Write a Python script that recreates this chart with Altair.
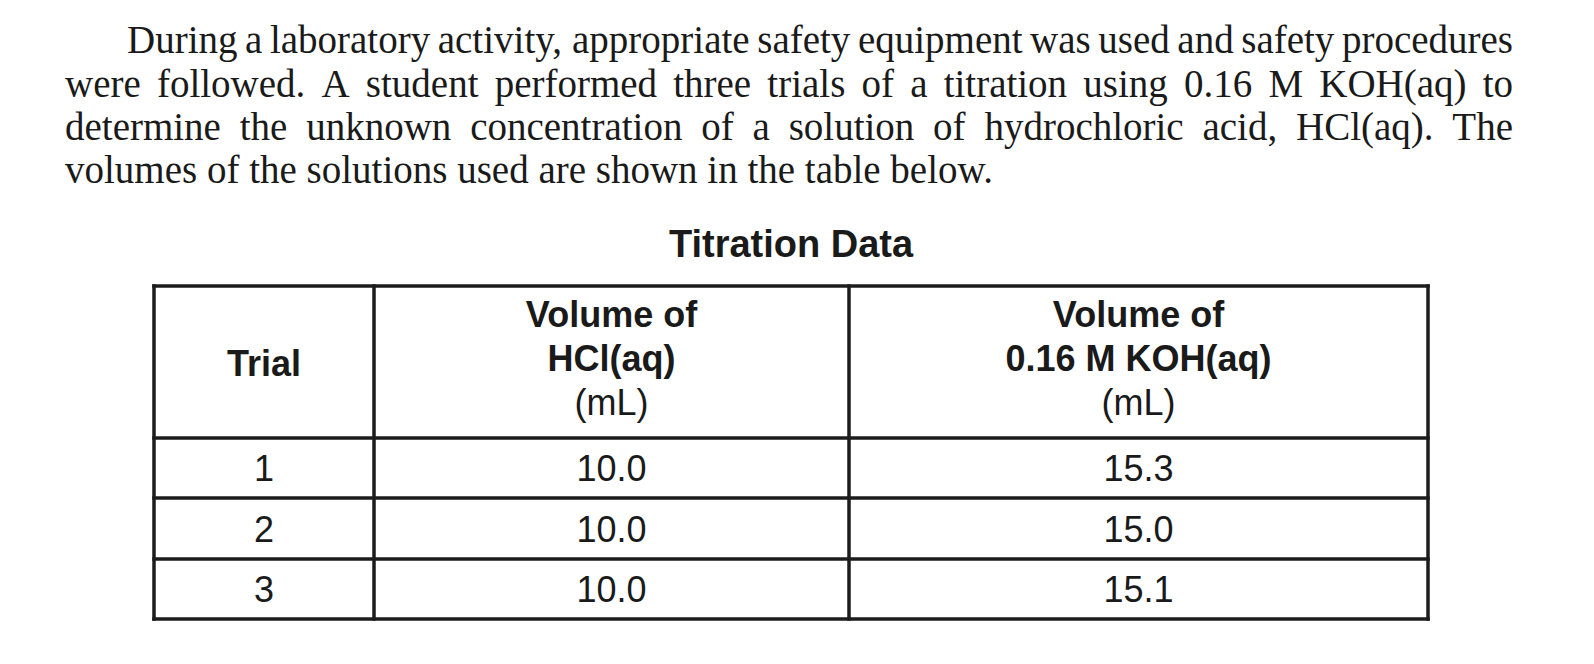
import altair as alt
import pandas as pd

# ---------------- content ----------------
PARAGRAPH_LINES = [
    "During a laboratory activity, appropriate safety equipment was used and safety procedures",
    "were followed. A student performed three trials of a titration using 0.16 M KOH(aq) to",
    "determine the unknown concentration of a solution of hydrochloric acid, HCl(aq). The",
    "volumes of the solutions used are shown in the table below.",
]
TITLE = "Titration Data"
HEADER_TRIAL = ["Trial"]
HEADER_HCL = ["Volume of", "HCl(aq)", "(mL)"]
HEADER_KOH = ["Volume of", "0.16 M KOH(aq)", "(mL)"]
TRIALS = ["1", "2", "3"]
HCL_ML = [10.0, 10.0, 10.0]
KOH_ML = [15.3, 15.0, 15.1]

# ---------------- layout (page pixels) ----------------
W, H, M = 1578, 648, 8
SERIF = "Liberation Serif"
SANS = "Liberation Sans"
INK = "#1a1a1a"
PARA_FS = 39
TABLE_FS = 36
TITLE_FS = 38

PARA_LEFT, PARA_INDENT, PARA_RIGHT = 65, 127, 1513
PARA_BASELINES = [53, 97, 140, 183]

COL_EDGES = [154, 374, 849, 1428]
ROW_EDGES = [286, 438, 498, 559, 619]
TITLE_BASELINE = 257

# Times / Liberation Serif advance widths (1/1000 em)
TW = {" ": 250, ",": 250, ".": 250, "(": 333, ")": 333, "A": 722, "C": 667, "D": 722,
      "H": 722, "K": 722, "M": 889, "O": 722, "T": 611, "a": 444, "b": 500, "c": 444,
      "d": 500, "e": 444, "f": 333, "g": 500, "h": 500, "i": 278, "k": 500, "l": 278,
      "m": 778, "n": 500, "o": 500, "p": 500, "q": 500, "r": 333, "s": 389, "t": 278,
      "u": 500, "v": 500, "w": 722, "x": 500, "y": 500}


def tw(s, fs):
    return sum(TW.get(c, 500) for c in s) / 1000.0 * fs


# paragraph words laid out with justification (last line ragged)
para_rows = []
for i, line in enumerate(PARAGRAPH_LINES):
    left = PARA_INDENT if i == 0 else PARA_LEFT
    if i == len(PARAGRAPH_LINES) - 1:
        para_rows.append({"x": left, "y": PARA_BASELINES[i], "t": line})
        continue
    words = line.split(" ")
    widths = [tw(w, PARA_FS) for w in words]
    gap = (PARA_RIGHT - left - sum(widths)) / (len(words) - 1)
    x = left
    for w, ww in zip(words, widths):
        para_rows.append({"x": x, "y": PARA_BASELINES[i], "t": w})
        x += ww + gap
para_df = pd.DataFrame(para_rows)

# grid lines
grid = []
for y in ROW_EDGES:
    grid.append({"x": COL_EDGES[0], "x2": COL_EDGES[-1], "y": y, "y2": y})
for x in COL_EDGES:
    grid.append({"x": x, "x2": x, "y": ROW_EDGES[0], "y2": ROW_EDGES[-1]})
grid_df = pd.DataFrame(grid)

centers = [(COL_EDGES[i] + COL_EDGES[i + 1]) / 2 for i in range(3)]
HEADER_BASELINES = [327, 371, 415]
TRIAL_BASELINE = 376

head_bold, head_norm = [], []
head_bold.append({"x": centers[0], "y": TRIAL_BASELINE, "t": HEADER_TRIAL[0]})
for c, lines in ((centers[1], HEADER_HCL), (centers[2], HEADER_KOH)):
    for j, t in enumerate(lines):
        row = {"x": c, "y": HEADER_BASELINES[j], "t": t}
        (head_bold if j < 2 else head_norm).append(row)
head_bold_df = pd.DataFrame(head_bold)
head_norm_df = pd.DataFrame(head_norm)

body = []
for r, (tr, h, k) in enumerate(zip(TRIALS, HCL_ML, KOH_ML)):
    yb = (ROW_EDGES[r + 1] + ROW_EDGES[r + 2]) / 2 + 13
    body.append({"x": centers[0], "y": yb, "t": tr})
    body.append({"x": centers[1], "y": yb, "t": f"{h:.1f}"})
    body.append({"x": centers[2], "y": yb, "t": f"{k:.1f}"})
body_df = pd.DataFrame(body)

title_df = pd.DataFrame([{"x": (COL_EDGES[0] + COL_EDGES[-1]) / 2, "y": TITLE_BASELINE, "t": TITLE}])

xs = alt.Scale(domain=[M, M + W], nice=False, zero=False)
ys = alt.Scale(domain=[M, M + H], nice=False, zero=False, reverse=True)


def X(f="x"):
    return alt.X(f"{f}:Q", scale=xs, axis=None)


def Y(f="y"):
    return alt.Y(f"{f}:Q", scale=ys, axis=None)


para = alt.Chart(para_df).mark_text(
    font=SERIF, fontSize=PARA_FS, align="left", baseline="alphabetic", color=INK
).encode(x=X(), y=Y(), text="t:N")

title = alt.Chart(title_df).mark_text(
    font=SANS, fontSize=TITLE_FS, fontWeight="bold", align="center", baseline="alphabetic", color=INK
).encode(x=X(), y=Y(), text="t:N")

lines = alt.Chart(grid_df).mark_rule(strokeWidth=3.5, color="#1c1c1c", strokeCap="square").encode(
    x=X(), x2="x2:Q", y=Y(), y2="y2:Q"
)

hb = alt.Chart(head_bold_df).mark_text(
    font=SANS, fontSize=TABLE_FS, fontWeight="bold", align="center", baseline="alphabetic", color=INK
).encode(x=X(), y=Y(), text="t:N")

hn = alt.Chart(head_norm_df).mark_text(
    font=SANS, fontSize=TABLE_FS, align="center", baseline="alphabetic", color=INK
).encode(x=X(), y=Y(), text="t:N")

bd = alt.Chart(body_df).mark_text(
    font=SANS, fontSize=TABLE_FS, align="center", baseline="alphabetic", color=INK
).encode(x=X(), y=Y(), text="t:N")

chart = alt.layer(para, title, lines, hb, hn, bd).properties(
    width=W, height=H, padding=0, autosize="none", background="white"
).configure_view(stroke=None)

chart.save("out.html", embed_options={"renderer": "svg", "actions": False})
